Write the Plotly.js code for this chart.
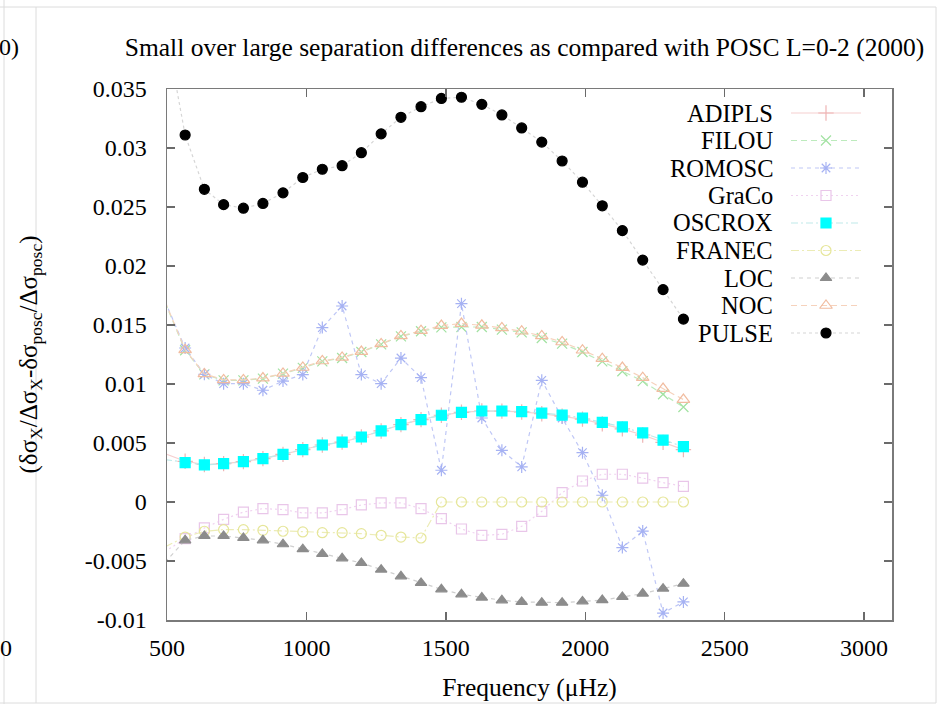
<!DOCTYPE html>
<html>
<head>
<meta charset="utf-8">
<script src="https://cdn.plot.ly/plotly-3.0.1.min.js"></script>
<style>
  html, body { margin: 0; padding: 0; background: #fff; }
  #chart { width: 951px; height: 704px; }
</style>
</head>
<body>
<div id="chart"></div>
<script>
// Mode frequencies (µHz); the first one lies just left of the plotted range
const freq = [493, 565, 634, 703, 774, 844, 916, 987, 1057, 1128, 1197, 1268, 1339, 1411,
              1484, 1556, 1629, 1701, 1772, 1844, 1917, 1990, 2061, 2133, 2206, 2279, 2352];

const seriesNames = ["ADIPLS", "FILOU", "ROMOSC", "GraCo", "OSCROX", "FRANEC", "LOC", "NOC", "PULSE"];

const adipls = [0.0041, 0.00345, 0.00318, 0.00325, 0.00342, 0.00368, 0.00404, 0.00444, 0.00483, 0.00508,
                0.00551, 0.00602, 0.00656, 0.00698, 0.00735, 0.0076, 0.00771, 0.0077, 0.00763, 0.00748,
                0.00728, 0.00702, 0.00662, 0.0062, 0.00568, 0.00505, 0.00444];
const filou = [0.0169, 0.01286, 0.01082, 0.01031, 0.01031, 0.01046, 0.01088, 0.01136, 0.01192, 0.0122,
               0.01271, 0.01336, 0.01404, 0.01447, 0.0148, 0.01483, 0.01483, 0.01461, 0.01438, 0.0139,
               0.01342, 0.01271, 0.01192, 0.01108, 0.01025, 0.00913, 0.00805];
const romosc = [0.0170, 0.01305, 0.01082, 0.01003, 0.01003, 0.00947, 0.01025, 0.0108, 0.01478, 0.01661,
                0.0108, 0.01003, 0.0122, 0.01054, 0.00269, 0.01681, 0.00712, 0.00438, 0.00297, 0.01031,
                0.00712, 0.00418, 0.00057, -0.00386, -0.00246, -0.00941, -0.00847];
const graco = [-0.0042, -0.0031, -0.0022, -0.00147, -0.00085, -0.00056, -0.00064, -0.00093, -0.00093, -0.00064,
               -0.00025, -0.00008, -0.00008, -0.00056, -0.00141, -0.00229, -0.00282, -0.00274, -0.00206, -0.00079,
               0.0008, 0.00178, 0.00235, 0.00235, 0.00203, 0.00164, 0.00133];
const oscrox = [0.0036, 0.00334, 0.00314, 0.00325, 0.00342, 0.00368, 0.00404, 0.00444, 0.00483, 0.00508,
                0.00551, 0.00602, 0.00656, 0.00698, 0.00735, 0.0076, 0.00771, 0.00771, 0.00766, 0.00754,
                0.00737, 0.00712, 0.00675, 0.00636, 0.00585, 0.00525, 0.00469];
const franec = [-0.0038, -0.00297, -0.00248, -0.00234, -0.00234, -0.0024, -0.00248, -0.00254, -0.0026, -0.0026,
                -0.00268, -0.00282, -0.00297, -0.00305, 0, 0, 0, 0, 0, 0,
                0, 0, 0, 0, 0, 0, 0];
const loc = [-0.0051, -0.00325, -0.00288, -0.00288, -0.00305, -0.00325, -0.00358, -0.004, -0.0044, -0.00477,
             -0.00517, -0.00573, -0.0063, -0.00686, -0.0074, -0.00782, -0.0081, -0.00833, -0.00847, -0.00853,
             -0.00853, -0.00842, -0.00831, -0.00805, -0.00776, -0.00734, -0.00692];
const noc = [0.0170, 0.0129, 0.01085, 0.01035, 0.01035, 0.0105, 0.0109, 0.0114, 0.01195, 0.01225,
             0.01275, 0.0134, 0.01408, 0.01452, 0.01495, 0.01512, 0.01497, 0.01475, 0.01447, 0.01407,
             0.01356, 0.01286, 0.01215, 0.01139, 0.01054, 0.00961, 0.00868];
const pulse = [0.0404, 0.0311, 0.0265, 0.0252, 0.0249, 0.0253, 0.0262, 0.0275, 0.0282, 0.0285,
               0.0296, 0.0312, 0.0326, 0.0335, 0.0342, 0.0343, 0.0337, 0.0328, 0.0317, 0.0305,
               0.0289, 0.0271, 0.0251, 0.0230, 0.0205, 0.0180, 0.0155];

const xTickVals = [500, 1000, 1500, 2000, 2500, 3000];
const xTickText = ["500", "1000", "1500", "2000", "2500", "3000"];
const yTickVals = [-0.01, -0.005, 0, 0.005, 0.01, 0.015, 0.02, 0.025, 0.03, 0.035];
const yTickText = ["-0.01", "-0.005", "0", "0.005", "0.01", "0.015", "0.02", "0.025", "0.03", "0.035"];

const seriesValues = [adipls, filou, romosc, graco, oscrox, franec, loc, noc, pulse];

const xMin = 500, xMax = 3100;

// gnuplot-like line/point styles, one per series
const styles = [
  { line: "#f6d0d0", dash: "solid",            sym: "cross-thin-open",  mcol: "#eeb4b4", size: 11, lw: 1.2 },
  { line: "#bdebbd", dash: "6px,4px",          sym: "x-thin-open",      mcol: "#a2e2a2", size: 10, lw: 1.2 },
  { line: "#bfc7f6", dash: "4px,4px",          sym: "asterisk-open",    mcol: "#a6b2f3", size: 10, lw: 1.2 },
  { line: "#f0d2f0", dash: "2px,3px",          sym: "square-open",      mcol: "#e9c6e9", size: 10, lw: 1.2 },
  { line: "#bfeaea", dash: "7px,3px,2px,3px",  sym: "square",           mcol: "#00ffff", size: 10, lw: 1.2 },
  { line: "#ececb6", dash: "8px,3px,2px,3px",  sym: "circle-open",      mcol: "#e6e69a", size: 10, lw: 1.2 },
  { line: "#cfcfcf", dash: "4px,4px",          sym: "triangle-up",      mcol: "#8c8c8c", size: 10, lw: 1.2 },
  { line: "#f6d2bc", dash: "6px,4px",          sym: "triangle-up-open", mcol: "#f1bca0", size: 11, lw: 1.2 },
  { line: "#d6d6d6", dash: "3px,3px",          sym: "circle",           mcol: "#000000", size: 10, lw: 1.2 }
];

const FONT = "Liberation Serif";
const txt = (size) => ({ family: FONT, size: size, color: "#000000" });

const traces = [];
seriesValues.forEach((vals, i) => {
  const s = styles[i];
  traces.push({
    x: freq, y: vals, name: seriesNames[i], type: "scatter", mode: "lines+markers",
    line: { color: s.line, width: s.lw, dash: s.dash },
    // points outside the frequency window keep their line segment but no symbol
    marker: { symbol: s.sym, size: freq.map(f => (f < xMin ? 0 : s.size)), color: s.mcol, opacity: 1,
              line: { color: s.mcol, width: 1.2 } },
    showlegend: false, hoverinfo: "skip"
  });
});

// Key: right-aligned labels with a short line sample and a point to their right
const plotL = 167, plotR = 892, plotT = 89, plotB = 620;
const px2x = px => (px - plotL) / (plotR - plotL);
const px2y = py => 1 - (py - plotT) / (plotB - plotT);
const keyTop = 113, keyStep = 27.5;
const keyLine0 = px2x(791), keyLine1 = px2x(861), keyMid = px2x(826), keyText = px2x(775);

const annotations = [];
seriesNames.forEach((name, i) => {
  const s = styles[i];
  const ky = px2y(keyTop + keyStep * i);
  traces.push({
    x: [keyLine0, keyMid, keyLine1], y: [ky, ky, ky], xaxis: "x2", yaxis: "y2",
    type: "scatter", mode: "lines+markers",
    line: { color: s.line, width: s.lw, dash: s.dash },
    marker: { symbol: s.sym, size: [0, s.size, 0], color: s.mcol, opacity: 1,
              line: { color: s.mcol, width: 1.2 } },
    showlegend: false, hoverinfo: "skip", cliponaxis: false
  });
  annotations.push({
    xref: "paper", yref: "paper", x: keyText, y: ky, xanchor: "right", yanchor: "middle",
    text: name, showarrow: false, font: txt(24.5)
  });
});

// Edge fragments of the neighbouring panel
annotations.push({ xref: "paper", yref: "paper", x: px2x(21), y: px2y(47), xanchor: "right", yanchor: "middle",
  text: "(2000)", showarrow: false, font: txt(24) });
annotations.push({ xref: "paper", yref: "paper", x: px2x(14), y: px2y(648), xanchor: "right", yanchor: "middle",
  text: "3000", showarrow: false, font: txt(24) });

// Thin light frame lines around the panel
const frameCol = "#dcdcdc";
const shapes = [
  { x0: px2x(0), x1: px2x(936), y0: px2y(7), y1: px2y(7) },
  { x0: px2x(0), x1: px2x(936), y0: px2y(703), y1: px2y(703) },
  { x0: px2x(4), x1: px2x(4), y0: px2y(0), y1: px2y(704) },
  { x0: px2x(36), x1: px2x(36), y0: px2y(7), y1: px2y(703) },
  { x0: px2x(936), x1: px2x(936), y0: px2y(7), y1: px2y(703) }
].map(s => Object.assign({ type: "line", xref: "paper", yref: "paper", layer: "below",
  line: { color: frameCol, width: 1 } }, s));

const axisCommon = {
  showgrid: false, zeroline: false, showline: true, linecolor: "#7a7a7a", linewidth: 1.5,
  mirror: "ticks", ticks: "inside", ticklen: 8, tickwidth: 1.3, tickcolor: "#6a6a6a",
  tickfont: txt(24), automargin: false
};

const layout = {
  width: 951, height: 704,
  margin: { l: plotL, r: 951 - plotR, t: plotT, b: 704 - plotB, pad: 0 },
  paper_bgcolor: "#ffffff", plot_bgcolor: "rgba(0,0,0,0)",
  font: txt(24),
  showlegend: false,
  title: {
    text: "Small over large separation differences as compared with POSC L=0-2 (2000)",
    font: txt(25.5),
    xref: "container", yref: "container", x: 524.5 / 951, y: 1 - 47 / 704,
    xanchor: "center", yanchor: "middle"
  },
  xaxis: Object.assign({}, axisCommon, {
    range: [xMin, xMax], tickvals: xTickVals, ticktext: xTickText, ticklabelstandoff: 6,
    title: { text: "Frequency (μHz)", font: txt(25.5), standoff: 18 }
  }),
  yaxis: Object.assign({}, axisCommon, {
    range: [-0.01, 0.035], tickvals: yTickVals, ticktext: yTickText, ticklabelstandoff: 14,
    title: {
      text: "(δσ<sub>X</sub>/Δσ<sub>X</sub>-δσ<sub>posc</sub>/Δσ<sub>posc</sub>)",
      font: txt(25), standoff: 40
    }
  }),
  xaxis2: { overlaying: "x", anchor: "y2", range: [0, 1], visible: false, fixedrange: true },
  yaxis2: { overlaying: "y", anchor: "x2", range: [0, 1], visible: false, fixedrange: true },
  annotations: annotations,
  shapes: shapes
};

Plotly.newPlot("chart", traces, layout, { staticPlot: true, displayModeBar: false });
</script>
</body>
</html>
